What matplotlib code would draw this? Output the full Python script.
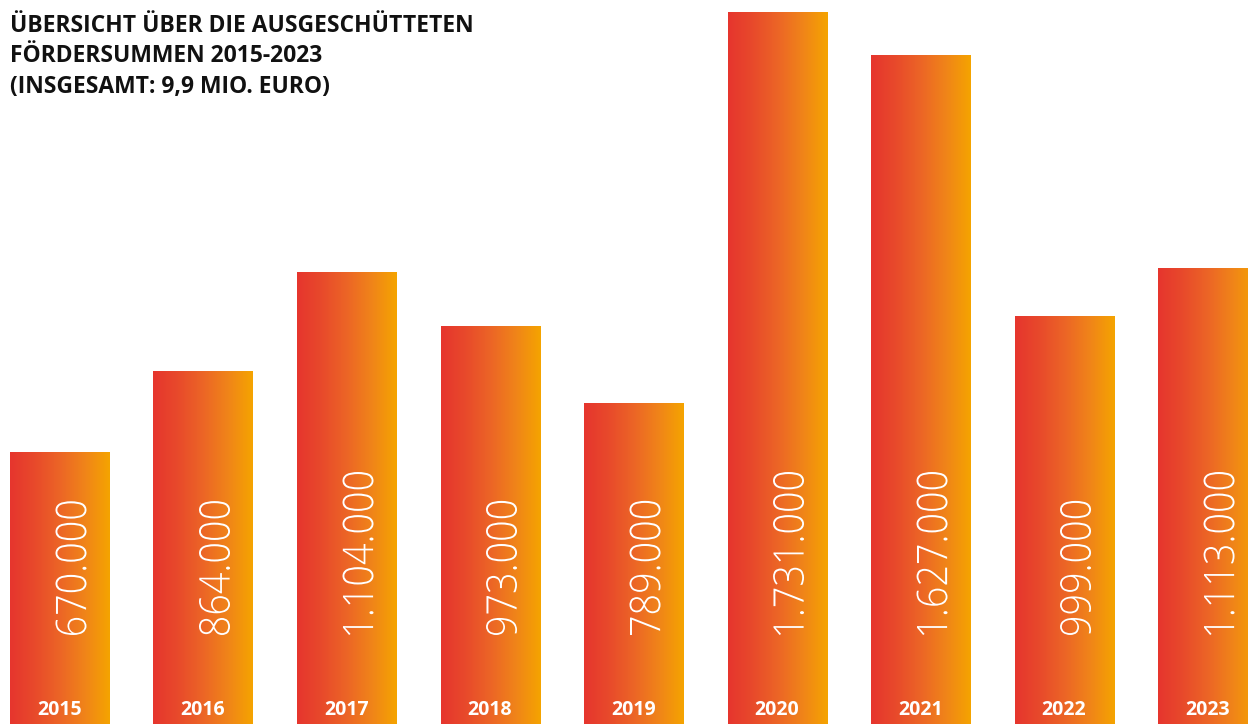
import numpy as np
import matplotlib
matplotlib.use("Agg")
import matplotlib.pyplot as plt
from matplotlib.colors import LinearSegmentedColormap
from matplotlib.font_manager import FontProperties
from matplotlib.textpath import TextPath
from matplotlib.patches import PathPatch
import matplotlib.transforms as mtransforms

# Fördersummen pro Jahr (Euro)
years = ["2015", "2016", "2017", "2018", "2019", "2020", "2021", "2022", "2023"]
values = [670000, 864000, 1104000, 973000, 789000, 1731000, 1627000, 999000, 1113000]
labels = ["670.000", "864.000", "1.104.000", "973.000", "789.000",
          "1.731.000", "1.627.000", "999.000", "1.113.000"]

title = "ÜBERSICHT ÜBER DIE AUSGESCHÜTTETEN\nFÖRDERSUMMEN 2015-2023\n(INSGESAMT: 9,9 MIO. EURO)"

fig = plt.figure(figsize=(12.48, 7.24), dpi=100)
ax = fig.add_axes([0, 0, 1, 1])
ax.axis("off")

cmap = LinearSegmentedColormap.from_list(
    "rot_orange", [(0, "#e6352e"), (0.25, "#e84a2b"), (0.5, "#ec6526"), (0.75, "#f08419"), (1, "#f5a400")])
grad = np.linspace(0, 1, 256).reshape(1, -1)
width = 99 / 143.5

bars = ax.bar(range(len(values)), values, width=width, color="none", edgecolor="none")
for bar in bars:
    x0, y0 = bar.get_x(), bar.get_y()
    w, h = bar.get_width(), bar.get_height()
    im = ax.imshow(grad, cmap=cmap, aspect="auto", extent=[x0, x0 + w, y0, y0 + h], zorder=1)
    im.set_clip_path(bar)

# Balken laufen unten etwas aus dem Bild heraus
ax.set_xlim(-0.4146, 8.282)
ax.set_ylim(14000, 1759800)

# Werte: schmale, leichte Schrift -> Textpfad etwas gestaucht
fp = FontProperties(family="Open Sans", weight="light")
digit_h = TextPath((0, 0), "0", size=1, prop=fp).get_extents().height
ref_len = TextPath((0, 0), "1.104.000", size=1, prop=fp).get_extents().width
s = 31 / digit_h
c = 163 / (ref_len * s)

for i, lab in enumerate(labels):
    tp = TextPath((0, 0), lab, size=1, prop=fp)
    ext = tp.get_extents()
    cx = ax.transData.transform((i, 0))[0] + 11.5
    tr = (mtransforms.Affine2D()
          .translate(-ext.x0, -(ext.y0 + ext.y1) / 2)
          .scale(c * s, s)
          .rotate_deg(90)
          .translate(cx, 89))
    patch = PathPatch(tp, facecolor="white", edgecolor="none", transform=tr, zorder=3)
    fig.add_artist(patch)

trans = mtransforms.blended_transform_factory(ax.transData, ax.transAxes)
for i, yr in enumerate(years):
    ax.text(i, 14 / 724, yr, transform=trans, ha="center", va="center",
            color="white", fontsize=14, family="Open Sans", fontweight="bold", zorder=3)

fig.text(10 / 1248, 1 - 14 / 724, title, ha="left", va="top", fontsize=16.5,
         family="Open Sans", fontweight="bold", color="#111111", linespacing=1.36)

fig.savefig("out.png", dpi=100)
